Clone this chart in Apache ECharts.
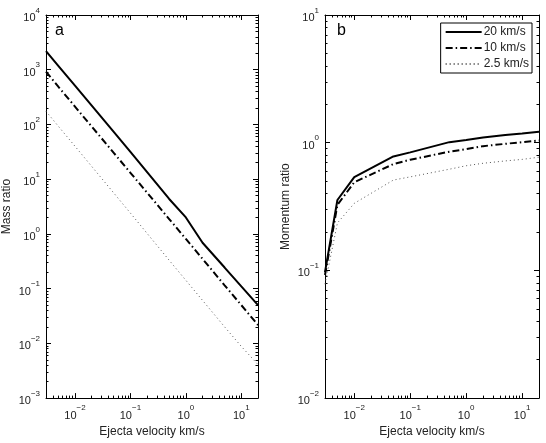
<!DOCTYPE html>
<html>
<head>
<meta charset="utf-8">
<script src="https://cdn.jsdelivr.net/npm/echarts@6/dist/echarts.min.js"></script>
<style>
  html, body { margin: 0; padding: 0; background: #fff; }
  #chart { width: 546px; height: 443px; }
</style>
</head>
<body>
<div id="chart"></div>
<script>
// ejecta velocity (km/s), shared by both panels
var velocities = [0.003, 0.005, 0.01, 0.05, 0.1, 0.5, 1, 2, 5, 10, 20];
var seriesNames = ['20 km/s', '10 km/s', '2.5 km/s'];

// panel a: mass ratio
var mass20 = [2190, 1180, 512, 73.5, 31.5, 4.35, 2.0, 0.69, 0.243, 0.11, 0.05];
var mass10 = [920, 491, 212, 30.3, 13.1, 1.87, 0.81, 0.35, 0.115, 0.05, 0.0216];
var mass25 = [174, 93, 40, 5.6, 2.4, 0.33, 0.142, 0.061, 0.02, 0.0088, 0.0041];

// panel b: momentum ratio
var mom20 = [0.097, 0.356, 0.538, 0.78, 0.84, 1.01, 1.05, 1.10, 1.15, 1.18, 1.22];
var mom10 = [0.092, 0.326, 0.49, 0.68, 0.736, 0.85, 0.89, 0.94, 0.98, 1.01, 1.04];
var mom25 = [0.078, 0.235, 0.335, 0.51, 0.54, 0.62, 0.66, 0.69, 0.72, 0.74, 0.77];

var font = 'Liberation Sans, Arial, sans-serif';

function pairs(ys) {
    return velocities.map(function (v, i) { return [v, ys[i]]; });
}

function powLabel(v) {
    var e = Math.round(Math.log10(v));
    return '{b|10}{e|' + (e < 0 ? '\u2212' + (-e) : e) + '}';
}

var labelRich = {
    b: { fontSize: 11, color: '#222', fontFamily: font, verticalAlign: 'bottom', lineHeight: 17 },
    e: { fontSize: 8, color: '#222', fontFamily: font, verticalAlign: 'top', lineHeight: 17 }
};

function logAxis(opt) {
    var ax = {
        type: 'log',
        logBase: 10,
        min: opt.min,
        max: opt.max,
        splitNumber: opt.split,
        gridIndex: opt.grid,
        position: opt.position,
        axisLine: { show: true, onZero: false, lineStyle: { color: '#000', width: 1 } },
        axisTick: { show: true, inside: true, length: 5, lineStyle: { color: '#000' } },
        minorTick: { show: true, splitNumber: 9, length: 2.5, lineStyle: { color: '#000' } },
        splitLine: { show: false },
        axisLabel: {
            show: opt.labels,
            formatter: powLabel,
            rich: labelRich,
            showMinLabel: opt.edgeLabels,
            showMaxLabel: opt.edgeLabels,
            margin: 6
        }
    };
    if (opt.name) {
        ax.name = opt.name;
        ax.nameLocation = 'middle';
        ax.nameGap = opt.nameGap;
        ax.nameTextStyle = { fontSize: 12, color: '#222', fontFamily: font };
    }
    return ax;
}

var solid = { color: '#000', width: 2, type: 'solid' };
var dashDot = { color: '#000', width: 2, type: [7, 3, 1.5, 3] };
var dotted = { color: '#555', width: 1, type: [1, 3] };
var styles = [solid, dashDot, dotted];

var massData = [mass20, mass10, mass25];
var momData = [mom20, mom10, mom25];

var series = [];
massData.forEach(function (ys, i) {
    series.push({
        name: seriesNames[i], type: 'line', xAxisIndex: 0, yAxisIndex: 0,
        symbol: 'none', lineStyle: styles[i], itemStyle: { color: styles[i].color },
        data: pairs(ys), animation: false, z: 3 - i
    });
});
momData.forEach(function (ys, i) {
    series.push({
        name: seriesNames[i], type: 'line', xAxisIndex: 1, yAxisIndex: 1,
        symbol: 'none', lineStyle: styles[i], itemStyle: { color: styles[i].color },
        data: pairs(ys), animation: false, z: 3 - i
    });
});

var myChart = echarts.init(document.getElementById('chart'));
var option = {
    backgroundColor: '#fff',
    animation: false,
    textStyle: { fontFamily: font },
    title: [
        { text: 'a', left: 50, top: 18, textStyle: { fontSize: 16, fontWeight: 'normal', color: '#000', fontFamily: font } },
        { text: 'b', left: 332, top: 18, textStyle: { fontSize: 16, fontWeight: 'normal', color: '#000', fontFamily: font } }
    ],
    legend: {
        data: seriesNames,
        right: 14,
        top: 23,
        orient: 'vertical',
        itemWidth: 36,
        itemHeight: 10,
        itemGap: 4,
        padding: [3, 3, 3, 4],
        borderColor: '#000',
        borderWidth: 1,
        borderRadius: 0,
        backgroundColor: '#fff',
        itemStyle: { opacity: 0 },
        textStyle: { fontSize: 12, color: '#222', fontFamily: font, padding: [0, 0, 0, -3] }
    },
    grid: [
        { left: 43, top: 15, width: 215, height: 392 },
        { left: 325, top: 15, width: 214, height: 392 }
    ],
    xAxis: [
        logAxis({ grid: 0, min: 0.003, max: 20, split: 5, position: 'bottom', labels: true, edgeLabels: false, name: 'Ejecta velocity km/s', nameGap: 24 }),
        logAxis({ grid: 1, min: 0.003, max: 20, split: 5, position: 'bottom', labels: true, edgeLabels: false, name: 'Ejecta velocity km/s', nameGap: 24 }),
        logAxis({ grid: 0, min: 0.003, max: 20, split: 5, position: 'top', labels: false }),
        logAxis({ grid: 1, min: 0.003, max: 20, split: 5, position: 'top', labels: false })
    ],
    yAxis: [
        logAxis({ grid: 0, min: 1e-3, max: 1e4, split: 7, position: 'left', labels: true, edgeLabels: true, name: 'Mass ratio', nameGap: 33 }),
        logAxis({ grid: 1, min: 1e-2, max: 1e1, split: 3, position: 'left', labels: true, edgeLabels: true, name: 'Momentum ratio', nameGap: 33 }),
        logAxis({ grid: 0, min: 1e-3, max: 1e4, split: 7, position: 'right', labels: false }),
        logAxis({ grid: 1, min: 1e-2, max: 1e1, split: 3, position: 'right', labels: false })
    ],
    series: series
};
myChart.setOption(option);
window.addEventListener('resize', function () {
    myChart.resize();
});
</script>
</body>
</html>
